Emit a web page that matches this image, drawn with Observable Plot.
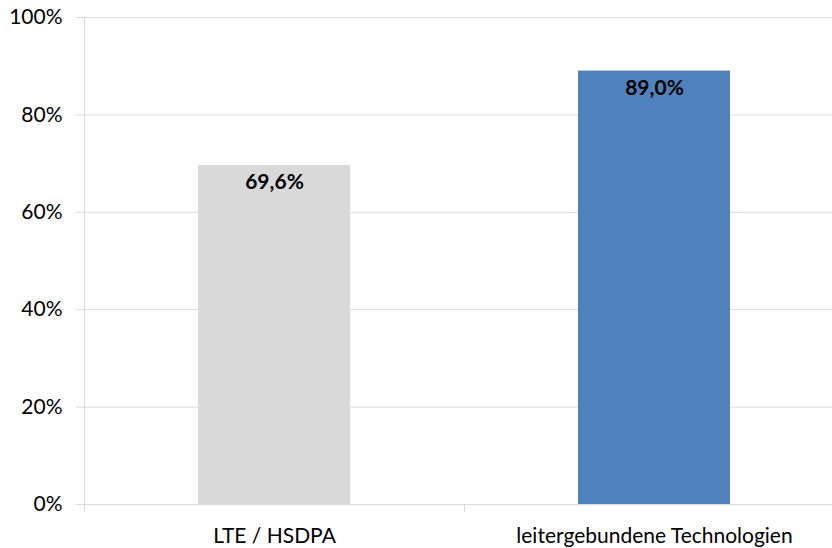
<!DOCTYPE html>
<html>
<head>
<meta charset="utf-8">
<script src="https://cdn.jsdelivr.net/npm/d3@7"></script>
<script src="https://cdn.jsdelivr.net/npm/@observablehq/plot@0.6"></script>
<style>
  html, body { margin: 0; padding: 0; background: #fff; overflow: hidden; }
  #chart svg { display: block; }
</style>
</head>
<body>
<div id="chart"></div>
<script>
const categories = ["LTE / HSDPA", "leitergebundene Technologien"];
const values = [69.6, 89.0];
const colors = ["#d9d9d9", "#4f81bd"];
const yTicks = [0, 20, 40, 60, 80, 100];

const data = categories.map((c, i) => ({i, category: c, value: values[i], color: colors[i]}));
const fmt = v => v.toFixed(1).replace(".", ",") + "%";
const gray = "#d9d9d9";
const font = "Lato, 'Open Sans', sans-serif";

const chart = Plot.plot({
  width: 832,
  height: 548,
  marginLeft: 84,
  marginRight: 0,
  marginTop: 17,
  marginBottom: 44,
  style: {fontFamily: font, background: "#fff"},
  x: {domain: [0, categories.length], range: [84, 844]},
  y: {domain: [0, 100]},
  marks: [
    Plot.gridY(yTicks, {stroke: gray, strokeOpacity: 1, strokeWidth: 1}),
    Plot.axisY({ticks: yTicks, tickFormat: d => d + "%", tickSize: 8, tickPadding: 14,
      stroke: gray, strokeOpacity: 1, fill: "#000", fontSize: 21, label: null}),
    Plot.axisX({ticks: d3.range(categories.length + 1), tickFormat: () => "", tickSize: 8,
      stroke: gray, strokeOpacity: 1, label: null}),
    Plot.ruleX([0], {stroke: gray}),
    Plot.rectY(data, {x1: d => d.i, x2: d => d.i + 1, y: "value", fill: d => d.color, insetLeft: 114, insetRight: 114}),
    Plot.text(data, {x: d => d.i + 0.5, y: "value", text: d => fmt(d.value), dy: 17,
      fontWeight: "bold", fontSize: 21, fill: "#000", lineAnchor: "middle"}),
    Plot.text(data, {x: d => d.i + 0.5, y: 0, text: "category", dy: 32,
      fontSize: 21, fill: "#000", lineAnchor: "middle"})
  ]
});
document.getElementById("chart").appendChild(chart);
</script>
</body>
</html>
